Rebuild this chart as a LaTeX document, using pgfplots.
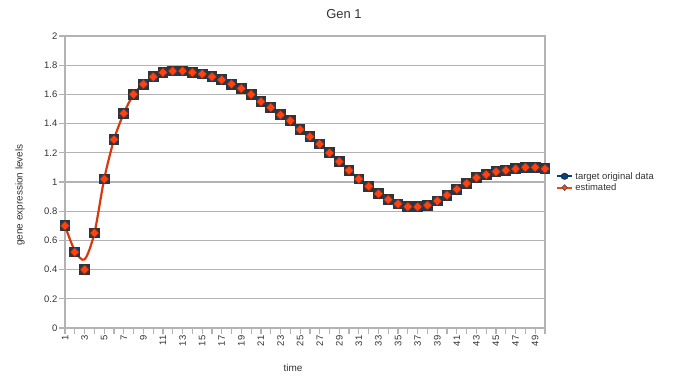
\documentclass[border=0pt]{standalone}
\usepackage{fontspec}
\setmainfont{Liberation Sans}
\usepackage{pgfplots}
\pgfplotsset{compat=1.18}
\definecolor{lonavy}{HTML}{004586}
\definecolor{loorange}{HTML}{FF420E}
\definecolor{gridgray}{HTML}{B3B3B3}
\definecolor{txt}{HTML}{333333}
\pgfplotstableread{
x y
1 0.70
2 0.52
3 0.40
4 0.65
5 1.02
6 1.29
7 1.47
8 1.60
9 1.67
10 1.72
11 1.75
12 1.76
13 1.76
14 1.75
15 1.74
16 1.72
17 1.70
18 1.67
19 1.64
20 1.60
21 1.55
22 1.51
23 1.46
24 1.42
25 1.36
26 1.31
27 1.26
28 1.20
29 1.14
30 1.08
31 1.02
32 0.97
33 0.92
34 0.88
35 0.85
36 0.83
37 0.83
38 0.84
39 0.87
40 0.91
41 0.95
42 0.99
43 1.03
44 1.05
45 1.07
46 1.08
47 1.09
48 1.10
49 1.10
50 1.09
}\target
\pgfplotstableread{
x y
1 0.70
2 0.53
3 0.47
4 0.65
5 1.02
6 1.29
7 1.47
8 1.60
9 1.67
10 1.72
11 1.75
12 1.76
13 1.76
14 1.75
15 1.74
16 1.72
17 1.70
18 1.67
19 1.64
20 1.60
21 1.55
22 1.51
23 1.46
24 1.42
25 1.36
26 1.31
27 1.26
28 1.20
29 1.14
30 1.08
31 1.02
32 0.97
33 0.92
34 0.88
35 0.85
36 0.83
37 0.83
38 0.84
39 0.87
40 0.91
41 0.95
42 0.99
43 1.03
44 1.05
45 1.07
46 1.08
47 1.09
48 1.10
49 1.10
50 1.09
}\estimated
\begin{document}
\begin{tikzpicture}[x=1bp,y=1bp]
\path[use as bounding box] (0,0) rectangle (697,379);
\begin{axis}[
  at={(65bp,51bp)}, anchor=south west,
  scale only axis, width=480bp, height=292bp,
  xmin=1, xmax=50, ymin=0, ymax=2,
  xtick={1,...,50},
  xticklabels={1,,3,,5,,7,,9,,11,,13,,15,,17,,19,,21,,23,,25,,27,,29,,31,,33,,35,,37,,39,,41,,43,,45,,47,,49,},
  ytick={0,0.2,0.4,0.6,0.8,1,1.2,1.4,1.6,1.8,2},
  yticklabels={0,0.2,0.4,0.6,0.8,1,1.2,1.4,1.6,1.8,2},
  xtick pos=bottom, ytick pos=left,
  x tick label style={rotate=90, anchor=east, font=\fontsize{9.5}{10}\selectfont, text=txt, inner sep=1.5pt},
  y tick label style={font=\fontsize{9.5}{10}\selectfont, text=txt, inner sep=1.5pt},
  tick align=outside, major tick length=6bp,
  tick style={gridgray, line width=1.2pt},
  axis line style={gridgray, line width=1.2pt},
  ymajorgrids, grid style={gridgray, line width=1.2pt},
  axis lines=box,
  clip=false,
  legend style={at={(1.02,0.5)}, anchor=west, draw=none, fill=none,
    font=\fontsize{9.5}{11}\selectfont, text=txt, row sep=-1pt, inner sep=1pt},
  legend cell align=left,
]
\addplot[draw=lonavy, line width=2pt, mark=square*, mark size=4.6pt,
  mark options={solid, fill=lonavy, draw=black!80, line width=1.6pt}, only marks,
  legend image code/.code={
    \draw[lonavy, line width=2pt] (0cm,0cm) -- (0.55cm,0cm);
    \fill[lonavy, draw=black!85, line width=0.8pt] (0.275cm,0cm) ellipse (3.5bp and 3bp);}]
  table[x=x, y=y] {\target};
\addlegendentry{target original data}
\addplot[loorange!85!black, line width=2.2pt, smooth, tension=0.5, mark=none,
  legend image code/.code={
    \draw[loorange, line width=2pt] (0cm,0cm) -- (0.55cm,0cm);
    \fill[loorange, draw=black!70, line width=0.6pt] (0.275cm,0cm) +(0,3bp) -- +(3bp,0) -- +(0,-3bp) -- +(-3bp,0) -- cycle;}]
  table[x=x, y=y] {\estimated};
\addlegendentry{estimated}
\addplot[only marks, mark=diamond*, mark size=4.6pt,
  mark options={fill=loorange, draw=loorange!60!black, line width=0.4pt, xscale=1.3}, forget plot]
  table[x=x, y=y] {\target};
\end{axis}
\node[text=txt, font=\fontsize{13}{15}\selectfont] at (344,365) {Gen 1};
\node[text=txt, font=\fontsize{10}{12}\selectfont] at (293,11) {time};
\node[text=txt, font=\fontsize{10}{12}\selectfont, rotate=90] at (20,184) {gene expression levels};
\end{tikzpicture}
\end{document}
